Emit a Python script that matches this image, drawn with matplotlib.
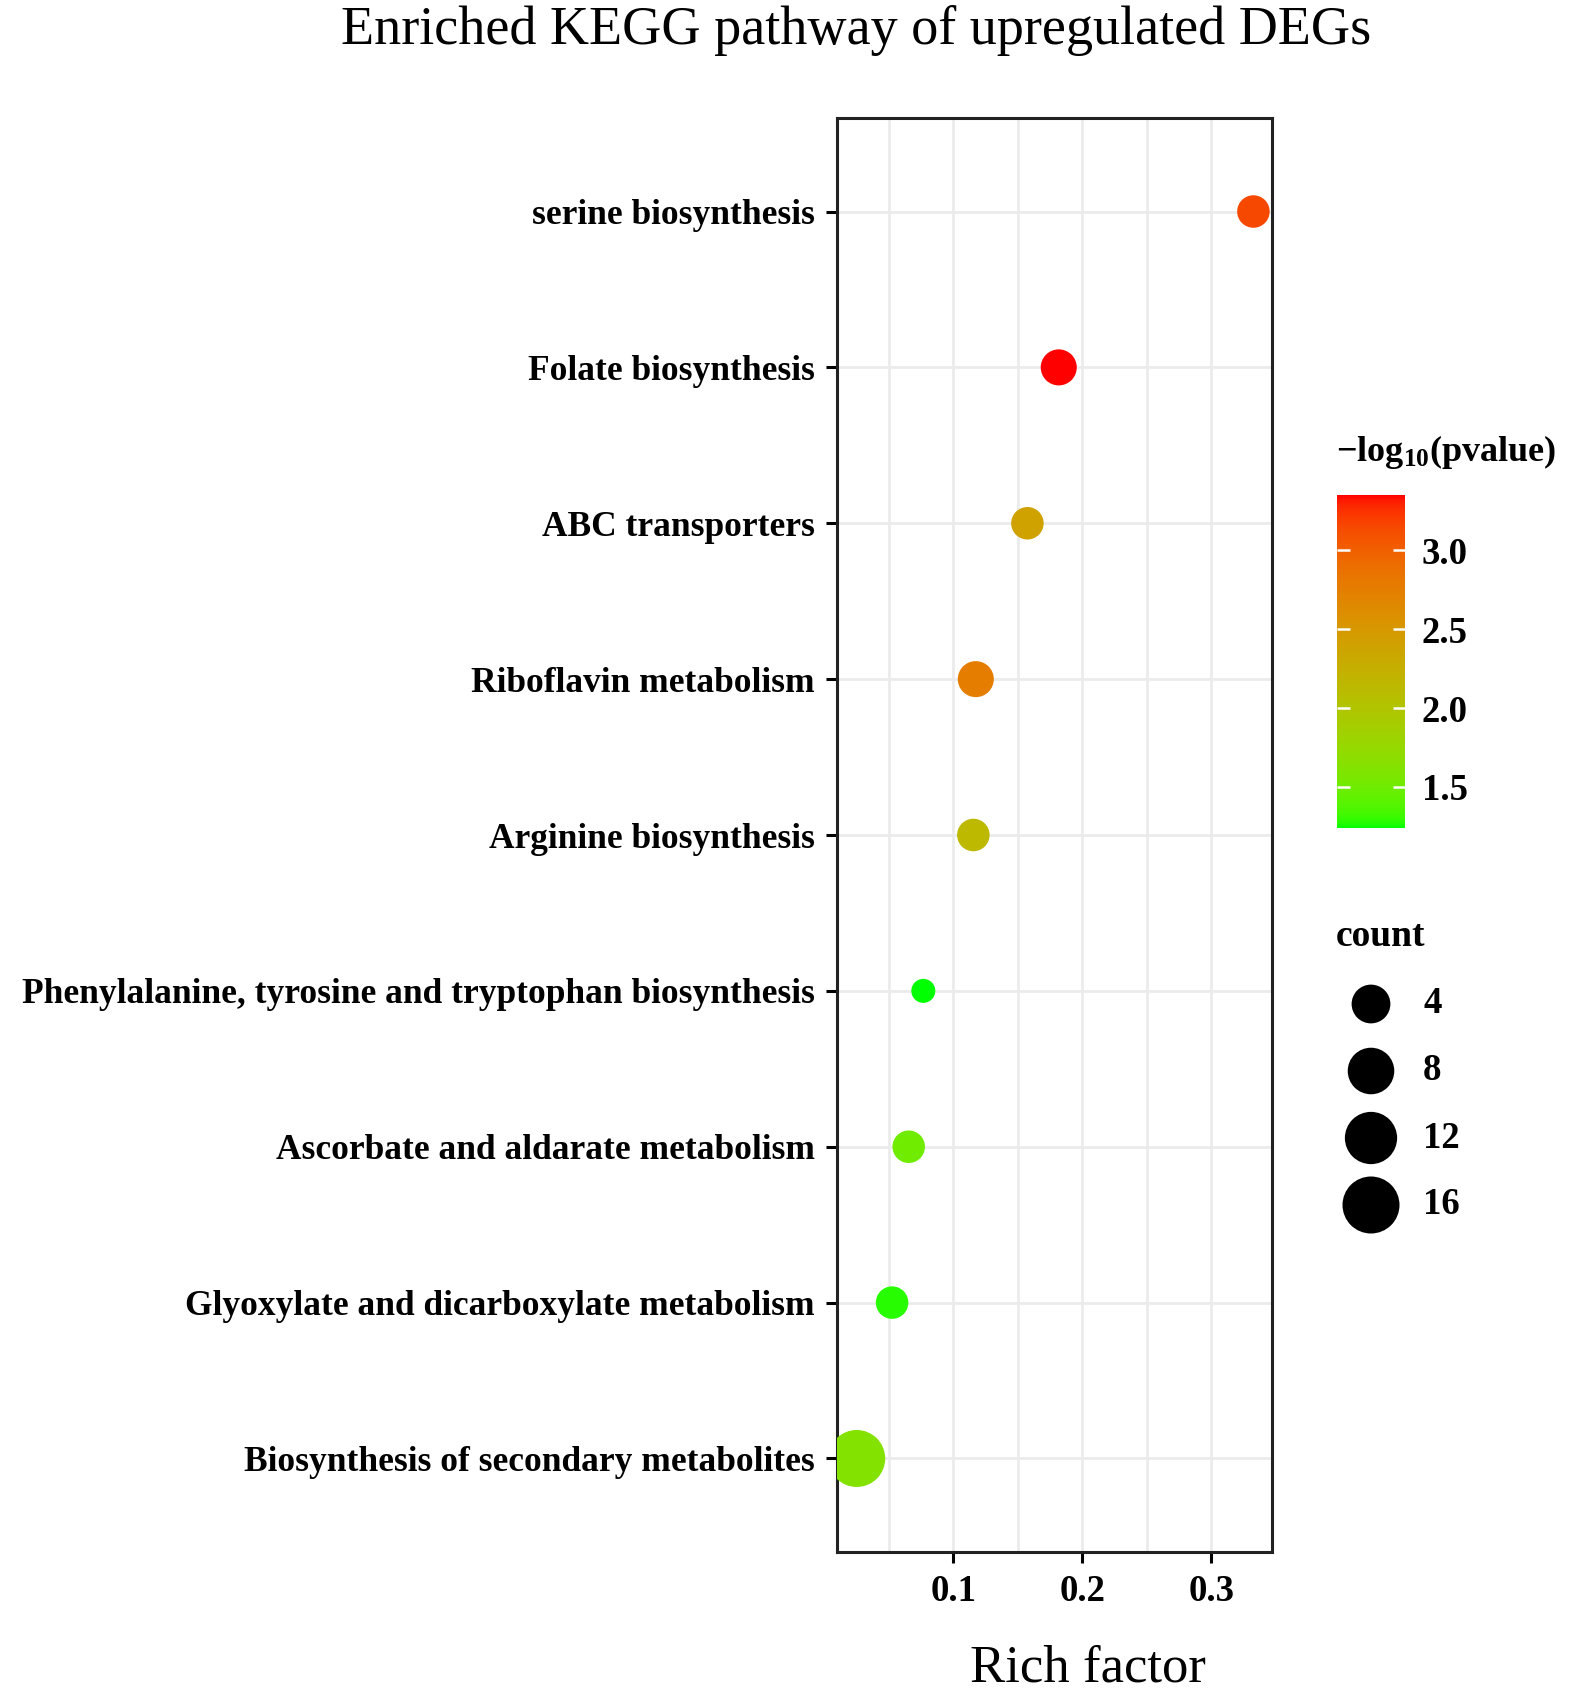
import numpy as np
import matplotlib
matplotlib.use('Agg')
import matplotlib.pyplot as plt
from matplotlib.colors import ListedColormap, Normalize
from matplotlib.cm import ScalarMappable

plt.rcParams['font.family'] = ['Liberation Serif', 'DejaVu Serif']
plt.rcParams['mathtext.fontset'] = 'custom'
plt.rcParams['mathtext.rm'] = 'Liberation Serif:bold'
plt.rcParams['mathtext.default'] = 'rm'

# data (top row first)
pathways = ['serine biosynthesis',
            'Folate biosynthesis',
            'ABC transporters',
            'Riboflavin metabolism',
            'Arginine biosynthesis',
            'Phenylalanine, tyrosine and tryptophan biosynthesis',
            'Ascorbate and aldarate metabolism',
            'Glyoxylate and dicarboxylate metabolism',
            'Biosynthesis of secondary metabolites']
rich_factor = [0.3326, 0.1817, 0.1574, 0.1174, 0.1155, 0.0767, 0.0654, 0.0525, 0.0251]
counts = [2, 3, 2, 3, 2, 1, 2, 2, 16]
neglog_p = [3.15, 3.35, 2.40, 2.75, 2.15, 1.24, 1.50, 1.28, 1.62]

legend_counts = [4, 8, 12, 16]
cbar_ticks = [1.5, 2.0, 2.5, 3.0]
x_ticks = [0.1, 0.2, 0.3]
x_minor = [0.05, 0.15, 0.25]

W, H = 1572, 1693
DPI = 100


# ggplot-like green -> red gradient, interpolated in Lab space
def srgb_to_lab(rgb):
    rgb = np.asarray(rgb, float)
    lin = np.where(rgb <= 0.04045, rgb / 12.92, ((rgb + 0.055) / 1.055) ** 2.4)
    M = np.array([[0.4124, 0.3576, 0.1805],
                  [0.2126, 0.7152, 0.0722],
                  [0.0193, 0.1192, 0.9505]])
    xyz = M @ lin / np.array([0.95047, 1.0, 1.08883])
    f = np.where(xyz > 0.008856, np.cbrt(xyz), 7.787 * xyz + 16 / 116)
    return np.array([116 * f[1] - 16, 500 * (f[0] - f[1]), 200 * (f[1] - f[2])])


def lab_to_srgb(lab):
    L, a, b = lab
    fy = (L + 16) / 116
    fx = fy + a / 500
    fz = fy - b / 200
    f = np.array([fx, fy, fz])
    xyz = np.where(f ** 3 > 0.008856, f ** 3, (f - 16 / 116) / 7.787)
    xyz = xyz * np.array([0.95047, 1.0, 1.08883])
    Minv = np.array([[3.2406, -1.5372, -0.4986],
                     [-0.9689, 1.8758, 0.0415],
                     [0.0557, -0.2040, 1.0570]])
    lin = np.clip(Minv @ xyz, 0, 1)
    rgb = np.where(lin <= 0.0031308, 12.92 * lin, 1.055 * lin ** (1 / 2.4) - 0.055)
    return np.clip(rgb, 0, 1)


lab_lo = srgb_to_lab([0, 1, 0])
lab_hi = srgb_to_lab([1, 0, 0])
cmap = ListedColormap([lab_to_srgb(lab_lo + (lab_hi - lab_lo) * t) for t in np.linspace(0, 1, 256)])
norm = Normalize(vmin=min(neglog_p), vmax=max(neglog_p))


# size scale: area-like mapping, diameters in pixels
def marker_area(c):
    d_px = 24 + 33 * np.sqrt((np.asarray(c, float) - 1) / 15)
    return (d_px * 72 / DPI) ** 2


fig = plt.figure(figsize=(W / DPI, H / DPI), dpi=DPI)
ax = fig.add_axes([837 / W, 1 - 1552 / H, (1272 - 837) / W, (1552 - 118) / H])

ypos = np.arange(len(pathways))
ax.scatter(rich_factor, ypos, s=marker_area(counts), c=neglog_p, cmap=cmap, norm=norm,
           edgecolors='none', zorder=3)

ax.set_xlim(0.0098, 0.347)
ax.set_ylim(len(pathways) - 0.4, -0.6)
ax.set_yticks(ypos)
ax.set_yticklabels(pathways, fontweight='bold')
ax.set_xticks(x_ticks)
ax.set_xticklabels([f'{v:.1f}' for v in x_ticks], fontweight='bold')
ax.set_xticks(x_minor, minor=True)
ax.grid(True, which='both', color='#ebebeb', linewidth=2.0, zorder=0)
ax.set_axisbelow(True)
ax.tick_params(axis='both', which='major', labelsize=26.5, length=8, width=2.2,
               color='black', pad=8)
ax.tick_params(axis='y', labelsize=25.5)
ax.tick_params(axis='x', which='minor', length=0)
for sp in ax.spines.values():
    sp.set_linewidth(2.2)
    sp.set_color('#222222')

fig.text(856 / W, 1 - 30 / H, 'Enriched KEGG pathway of upregulated DEGs',
         ha='center', va='center', fontsize=39)
fig.text(1088 / W, 1 - 1668 / H, 'Rich factor', ha='center', va='center', fontsize=38)

# colour bar
cax = fig.add_axes([1337 / W, 1 - 828 / H, 68 / W, 333 / H])
cb = fig.colorbar(ScalarMappable(norm=norm, cmap=cmap), cax=cax, ticks=cbar_ticks)
cb.outline.set_visible(False)
cb.ax.set_yticklabels([f'{v:.1f}' for v in cbar_ticks], fontweight='bold')
cb.ax.tick_params(direction='in', color='white', length=9, width=1.8, left=True, right=True,
                  labelsize=26.5, pad=12)
fig.text(1336 / W, 1 - 452 / H, r'$-$log$_{10}$(pvalue)', ha='left', va='center',
         fontsize=26, fontweight='bold')

# size legend
fig.text(1336 / W, 1 - 937 / H, 'count', ha='left', va='center', fontsize=27, fontweight='bold')
lax = fig.add_axes([1300 / W, 1 - 1240 / H, 250 / W, 270 / H])
lax.set_xlim(0, 250)
lax.set_ylim(270, 0)
lax.axis('off')
leg_y = 1004 - 970 + 67 * np.arange(len(legend_counts))
lax.scatter(np.full(len(legend_counts), 71), leg_y, s=marker_area(legend_counts),
            color='black', edgecolors='none')
for yy, c in zip(leg_y, legend_counts):
    lax.text(123, yy, str(c), ha='left', va='center', fontsize=26.5, fontweight='bold')

fig.savefig('out.png', dpi=DPI)
